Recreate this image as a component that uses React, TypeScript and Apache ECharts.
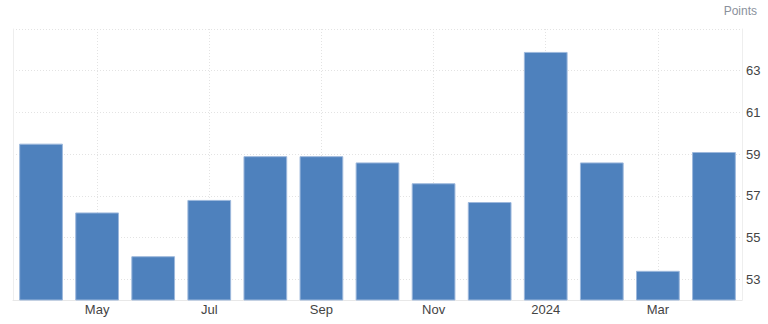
import React, { useEffect, useRef } from "react";
import * as echarts from "echarts";

const categories = ["Apr", "May", "Jun", "Jul", "Aug", "Sep", "Oct", "Nov", "Dec", "2024", "Feb", "Mar", "Apr"];
const values = [59.5, 56.2, 54.1, 56.8, 58.9, 58.9, 58.6, 57.6, 56.7, 63.9, 58.6, 53.4, 59.1];
const yTickLabels = [53, 55, 57, 59, 61, 63];
const yGridValues = [53, 55, 57, 59, 61, 63, 65];
const xLabeled = ["May", "Jul", "Sep", "Nov", "2024", "Mar"];
const unitLabel = "Points";

const FONT = "Arial, 'Liberation Sans', sans-serif";

export default function App() {
  const ref = useRef<HTMLDivElement>(null);
  useEffect(() => {
    document.body.style.margin = "0";
    const chart = echarts.init(ref.current!, undefined, { renderer: "svg" });
    const gridLine = { color: "#e3e3e3", width: 1, type: [1, 2] as any };
    chart.setOption({
      animation: false,
      textStyle: { fontFamily: FONT },
      graphic: [
        {
          type: "text",
          right: 11,
          top: 5,
          style: { text: unitLabel, fill: "#8a919c", fontSize: 12, fontFamily: FONT },
        },
      ],
      grid: { left: 13, right: 26, top: 29, bottom: 24 },
      xAxis: {
        type: "category",
        data: categories,
        boundaryGap: true,
        axisLine: { show: true, lineStyle: { color: "#e8e8e8" } },
        axisTick: { show: false },
        splitLine: { show: false },
        axisLabel: {
          interval: (i: number) => i % 2 === 1,
          color: "#444",
          fontSize: 13,
          margin: 3,
          fontFamily: FONT,
        },
      },
      yAxis: [
        {
          type: "value",
          position: "right",
          min: 52,
          max: 65,
          interval: 1,
          axisLine: { show: true, lineStyle: { color: "#eeeeee" } },
          axisTick: { show: false },
          splitLine: { show: false },
          axisLabel: {
            color: "#444",
            fontSize: 13,
            margin: 4,
            padding: [0, 0, 3, 0],
            fontFamily: FONT,
            formatter: (v: number) => (yTickLabels.includes(v) ? String(v) : ""),
          },
        },
        {
          type: "value",
          position: "left",
          min: 52,
          max: 65,
          interval: 1,
          axisLine: { show: true, lineStyle: { color: "#eeeeee" } },
          axisTick: { show: false },
          splitLine: { show: false },
          axisLabel: { show: false },
        },
      ],
      series: [
        {
          type: "line",
          data: [],
          z: 0,
          silent: true,
          markLine: {
            z: 0,
            silent: true,
            symbol: "none",
            label: { show: false },
            lineStyle: gridLine,
            data: [
              ...yGridValues.map((v) => ({ yAxis: v })),
              ...xLabeled.map((c) => ({ xAxis: c })),
            ],
          },
        },
        {
          type: "bar",
          data: values,
          z: 3,
          barCategoryGap: "22%",
          itemStyle: { color: "#4e81bd", borderColor: "#9db8dc", borderWidth: 1 },
        },
      ],
    });
    return () => chart.dispose();
  }, []);
  return <div ref={ref} style={{ width: 768, height: 324 }} />;
}
